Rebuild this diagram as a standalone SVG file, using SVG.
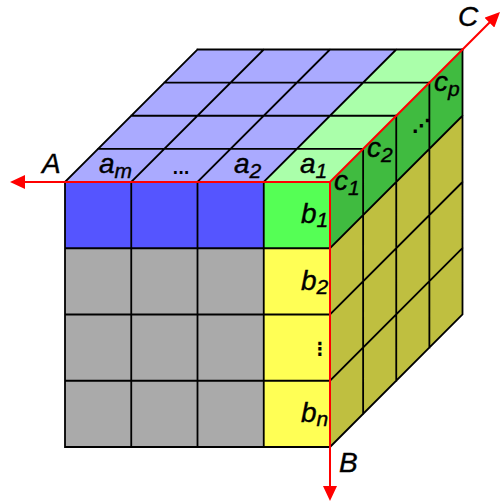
<svg xmlns="http://www.w3.org/2000/svg" width="502" height="501" viewBox="0 0 502 501">
<defs>
<style>
.g{stroke:#000;stroke-width:1.8;fill:none;stroke-linecap:square}
.ax{stroke:#ff0000;stroke-width:2;fill:none}
.t{font-family:"Liberation Sans",Arial,sans-serif;font-style:italic;font-size:28px;fill:#000;stroke:#000;stroke-width:0.4}
.s{font-size:21px}
.d{font-family:"DejaVu Sans",sans-serif;font-style:normal;font-weight:bold;stroke:none}
</style>
<marker id="arr" viewBox="0 0 15 14" refX="2" refY="7" markerWidth="15" markerHeight="14" markerUnits="userSpaceOnUse" orient="auto">
<path d="M0,0 L15,7 L0,14 z" fill="#ff0000"/>
</marker>
</defs>
<rect width="502" height="501" fill="#fff"/>
<g id="top-face">
<polygon points="65,182 330,182 462.5,49.5 197.5,49.5" fill="#aaaaff"/>
<polygon points="263.75,182 330,182 462.5,49.5 396.25,49.5" fill="#aaffaa"/>
<path class="g" d="M98.125,148.875H363.125M131.25,115.75H396.25M164.375,82.625H429.375M197.5,49.5H462.5M131.25,182L263.75,49.5M197.5,182L330,49.5M263.75,182L396.25,49.5M65,182L197.5,49.5"/>
</g>
<g id="front-face">
<rect x="65" y="182" width="265" height="265" fill="#aaaaaa"/>
<rect x="65" y="182" width="198.75" height="66.25" fill="#5555ff"/>
<rect x="263.75" y="182" width="66.25" height="265" fill="#ffff55"/>
<rect x="263.75" y="182" width="66.25" height="66.25" fill="#55ff55"/>
<path class="g" d="M65,182V447H330M131.25,182V447M197.5,182V447M263.75,182V447M65,248.25H330M65,314.5H330M65,380.75H330"/>
</g>
<g id="right-face">
<polygon points="330,182 462.5,49.5 462.5,314.5 330,447" fill="#bfbf40"/>
<polygon points="330,182 462.5,49.5 462.5,115.75 330,248.25" fill="#40bb40"/>
<path class="g" d="M363.125,148.875V413.875M396.25,115.75V380.75M429.375,82.625V347.625M462.5,49.5V314.5L330,447M330,248.25L462.5,115.75M330,314.5L462.5,182M330,380.75L462.5,248"/>
</g>
<g id="axes">
<line class="ax" x1="330" y1="182" x2="23" y2="182" marker-end="url(#arr)"/>
<line class="ax" x1="330" y1="182" x2="330" y2="488" marker-end="url(#arr)"/>
<line class="ax" x1="330" y1="182" x2="490.8" y2="21.2" marker-end="url(#arr)"/>
</g>
<g id="labels">
<text class="t" x="42" y="173">A</text>
<text class="t" x="339" y="472">B</text>
<text class="t" x="458" y="26">C</text>
<text class="t" x="99" y="173">a<tspan class="s" dy="5">m</tspan></text>
<text class="t d" x="181" y="174" text-anchor="middle" style="font-size:15px">...</text>
<text class="t" x="234" y="173">a<tspan class="s" dy="5">2</tspan></text>
<text class="t" x="300" y="173">a<tspan class="s" dy="5">1</tspan></text>
<text class="t" x="301" y="223">b<tspan class="s" dy="4">1</tspan></text>
<text class="t" x="301" y="289.5">b<tspan class="s" dy="4">2</tspan></text>
<text class="t d" x="320" y="355" text-anchor="middle" style="font-size:18px">⋮</text>
<text class="t" x="301" y="421.5">b<tspan class="s" dy="4">n</tspan></text>
<text class="t" x="334" y="190">c<tspan class="s" dy="5">1</tspan></text>
<text class="t" x="367" y="157">c<tspan class="s" dy="5">2</tspan></text>
<text class="t d" x="421" y="132" text-anchor="middle" style="font-size:18px">⋰</text>
<text class="t" x="434" y="91">c<tspan class="s" dy="5">p</tspan></text>
</g>
</svg>
